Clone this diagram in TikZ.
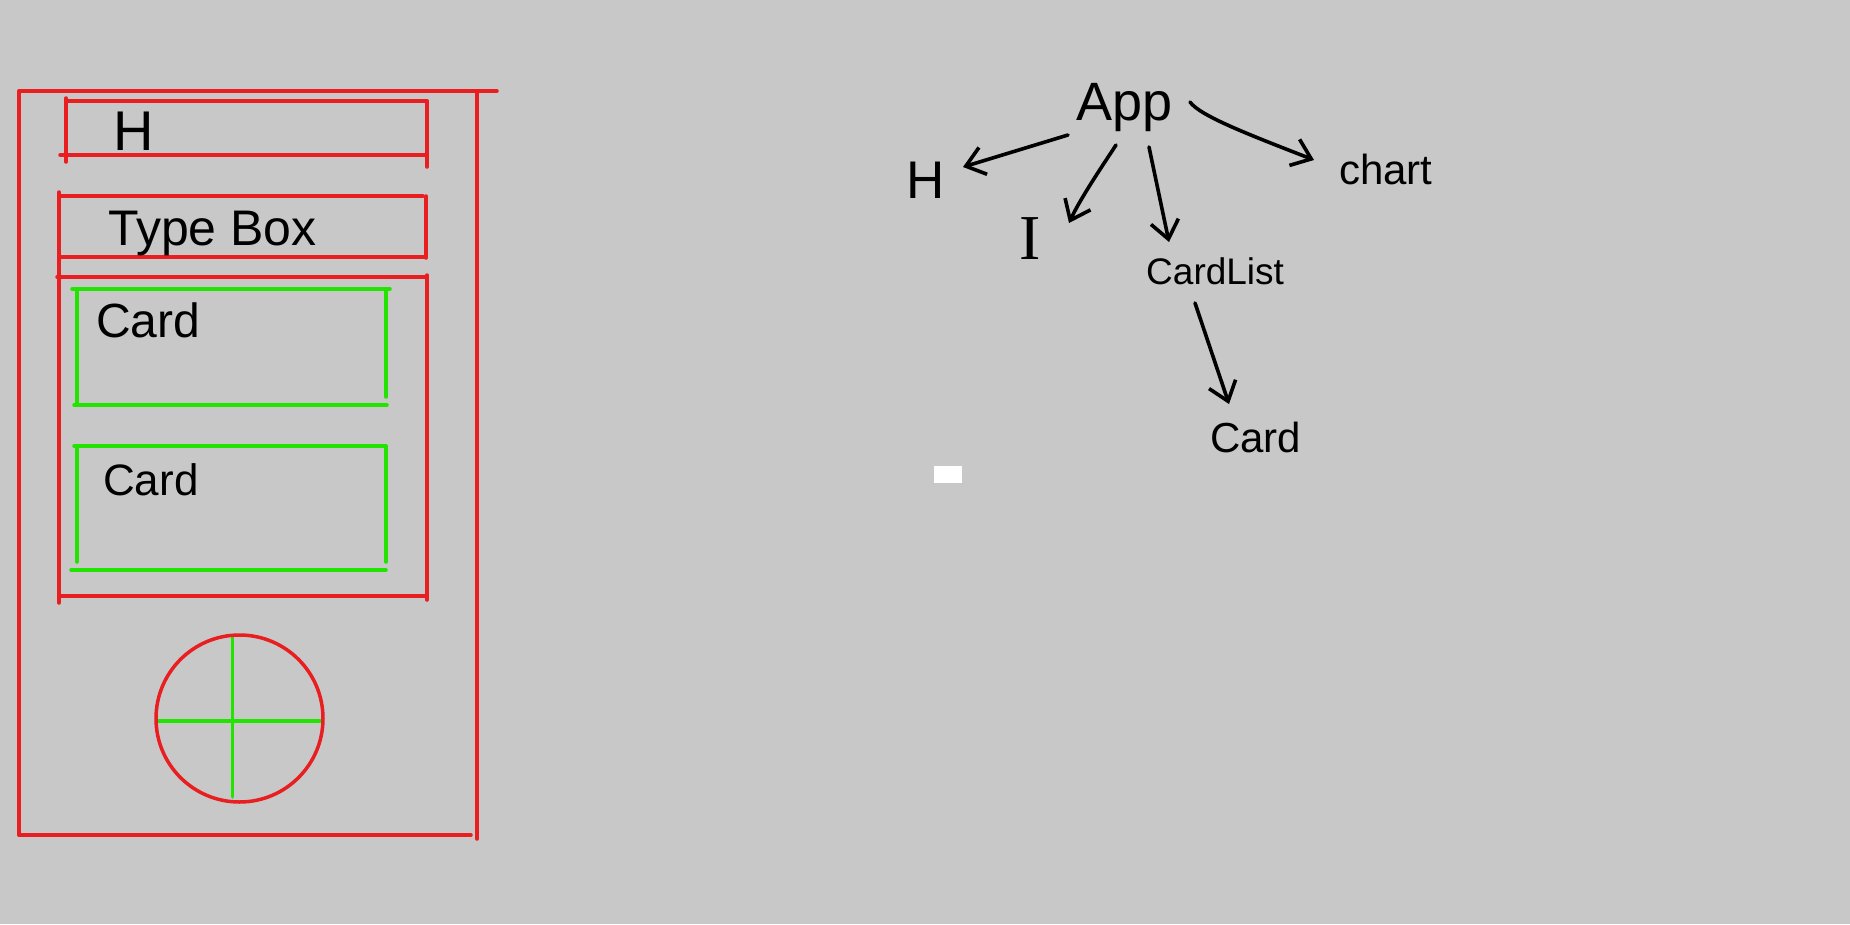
\documentclass[tikz,border=0pt]{standalone}
\usepackage{fontspec}
\setmainfont{Liberation Sans}
\newfontfamily\serifI{Liberation Serif}
\usetikzlibrary{arrows.meta}
\definecolor{bgc}{RGB}{200,200,200}
\definecolor{sred}{RGB}{232,30,32}
\definecolor{sgreen}{RGB}{34,228,0}
\tikzset{
  redl/.style={draw=sred, line width=3.5pt, line cap=round},
  grnl/.style={draw=sgreen, line width=3.5pt, line cap=round},
  lab/.style={inner sep=0pt, anchor=base west, text=black},
  arr/.style={draw=black, line width=3.6pt, line cap=round, line join=round,
    -{Straight Barb[length=18pt,width=28pt]}}
}
\newcommand{\fs}[1]{\fontsize{#1}{#1}\selectfont}
\begin{document}
\begin{tikzpicture}[x=1pt,y=-1pt]
\fill[bgc] (0,0) rectangle (1850,924);
\useasboundingbox (0,0) rectangle (1850,924);
% outer frame
\draw[redl] (19,91) -- (497,91);
\draw[redl] (19,91) -- (19,835);
\draw[redl] (19,835) -- (471,835);
\draw[redl] (477,91) -- (477,839);
% H box
\draw[redl] (66,101) -- (427,101);
\draw[redl] (66,98) -- (66,162);
\draw[redl] (60,155) -- (427,155);
\draw[redl] (427,101) -- (427,167);
% Type box
\draw[redl] (59,196) -- (423,196);
\draw[redl] (59,192) -- (59,603);
\draw[redl] (426,196) -- (426,258);
\draw[redl] (59,257) -- (426,257);
% card list container
\draw[redl] (57,277) -- (427,277);
\draw[redl] (427,275) -- (427,600);
\draw[redl] (59,596) -- (427,596);
% card 1
\draw[grnl] (72,289) -- (390,289);
\draw[grnl] (77,289) -- (77,405);
\draw[grnl] (386,289) -- (386,397);
\draw[grnl] (74,405) -- (387,405);
% card 2
\draw[grnl] (74,446) -- (386,446);
\draw[grnl] (77,446) -- (77,562);
\draw[grnl] (386,446) -- (386,562);
\draw[grnl] (71,570) -- (386,570);
% button
\draw[grnl] (232.7,637) -- (232.7,797);
\draw[grnl] (158,721) -- (320,721);
\draw[redl] (239.5,718.5) circle (83.5);
% left labels
\node[lab, font=\fs{56}] (lH) at (113,150) {H};
\node[lab, font=\fs{50}] (lType) at (108,245) {Type Box};
\node[lab, font=\fs{48}] (lCard1) at (96,337) {Card};
\node[lab, font=\fs{44}] (lCard2) at (103,495) {Card};
% white mark
\fill[white] (934,466) rectangle (962,483);
% tree
\node[lab, font=\fs{54}] (App) at (1076,120) {App};
\node[lab, font=\fs{53}] (H) at (906,198) {H};
\node[lab, font=\serifI\fs{64}] (I) at (1019,259) {I};
\node[lab, font=\fs{37}] (CardList) at (1146,284) {CardList};
\node[lab, font=\fs{42}] (chart) at (1339,184) {chart};
\node[lab, font=\fs{42}] (Card) at (1210,452) {Card};
\draw[arr] ([shift={(-8,15)}]App.base west) -- ([shift={(57,-31)}]H.base west);
\draw[arr] ([shift={(40,25)}]App.base west) .. controls ([shift={(31,39)}]App.base west) and ([shift={(5,77)}]App.base west) .. ([shift={(50,-36)}]I.base west);
\draw[arr] ([shift={(73,27)}]App.base west) -- ([shift={(23,-42)}]CardList.base west);
\draw[arr] ([shift={(114,-18)}]App.base west) .. controls ([shift={(124,-4)}]App.base west) and ([shift={(174,15)}]App.base west) .. ([shift={(-25,-24)}]chart.base west);
\draw[arr] ([shift={(49,19)}]CardList.base west) -- ([shift={(19,-48)}]Card.base west);
\end{tikzpicture}
\end{document}
